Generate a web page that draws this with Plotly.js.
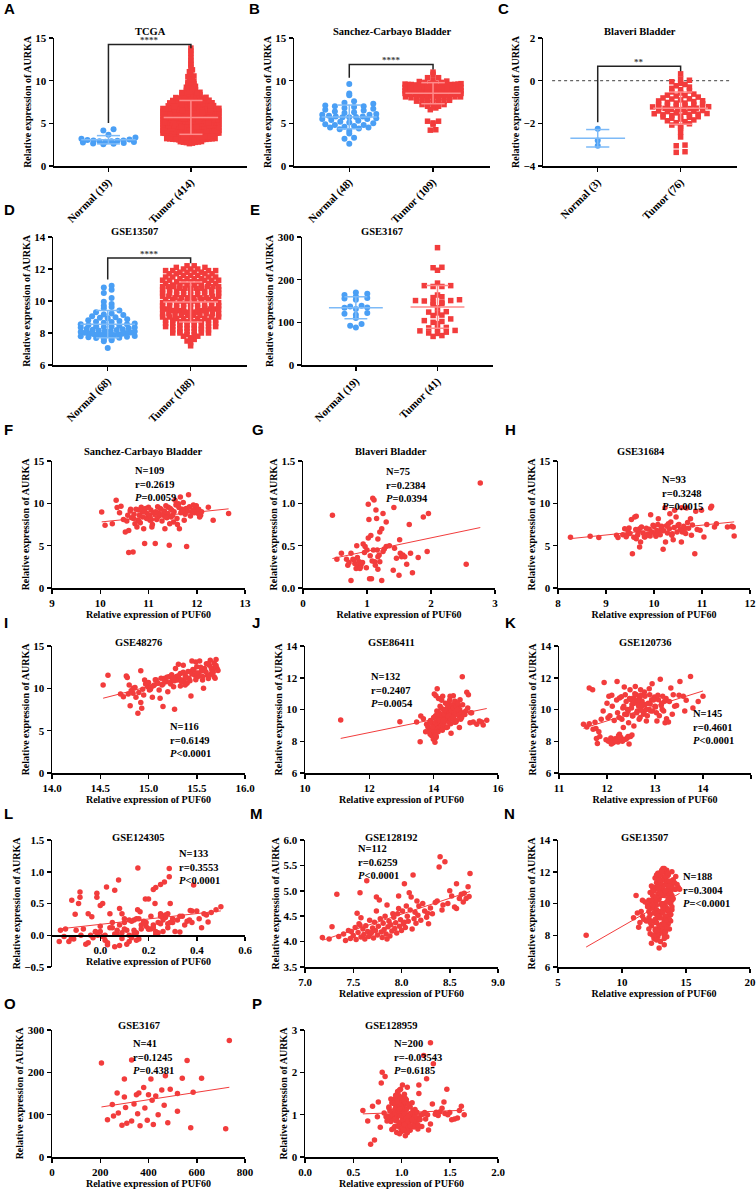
<!DOCTYPE html>
<html><head><meta charset="utf-8">
<script src="https://cdn.plot.ly/plotly-3.0.1.min.js"></script>
<style>body{margin:0;background:#fff}</style></head>
<body><div id="chart" style="width:756px;height:1190px"></div>
<script>
// ---------------- DATA ----------------
const groupLabels = {
  A:["Normal (19)","Tumor (414)"], B:["Normal (48)","Tumor (109)"], C:["Normal (3)","Tumor (76)"],
  D:["Normal (68)","Tumor (188)"], E:["Normal (19)","Tumor (41)"]
};
const tcgaNormal = [2.55,2.6,2.65,2.7,2.75,2.8,2.85,2.9,2.9,2.95,3.0,3.0,3.05,3.1,3.2,3.35,3.65,4.15,4.3];
const tcgaTumor = [
2.68,3.12,2.81,3.45,2.93,3.27,3.05,2.74,3.38,3.16,2.99,3.41,2.87,3.22,3.09,3.33,2.77,3.48,3.02,3.19,
3.55,3.91,3.62,3.78,3.52,3.87,3.69,3.96,3.58,3.73,3.84,3.64,3.99,3.57,3.81,3.66,3.93,3.71,3.6,3.88,
3.53,3.76,3.95,3.67,3.82,3.59,3.74,3.98,3.63,3.86,3.51,3.79,3.92,3.68,3.85,3.56,3.72,3.97,3.61,3.83,
4.12,4.38,4.05,4.27,4.46,4.19,4.33,4.02,4.41,4.23,4.09,4.36,4.15,4.48,4.28,4.07,4.43,4.2,4.31,4.11,
4.25,4.44,4.03,4.35,4.17,4.49,4.08,4.3,4.21,4.39,4.13,4.47,4.26,4.04,4.37,4.18,4.42,4.1,4.32,4.24,
4.01,4.34,4.16,4.45,4.06,4.29,4.4,4.14,4.22,4.47,4.58,4.83,4.66,4.92,4.54,4.77,4.61,4.98,4.72,4.55,
4.87,4.63,4.94,4.69,4.81,4.52,4.76,4.97,4.59,4.85,4.67,4.91,4.57,4.79,4.64,4.88,4.53,4.74,4.95,4.62,
4.84,4.7,4.96,4.56,4.78,4.65,4.89,4.51,4.73,4.93,4.6,4.82,4.68,4.99,4.75,5.08,5.31,5.14,5.42,5.03,
5.27,5.46,5.11,5.36,5.22,5.49,5.05,5.33,5.18,5.44,5.01,5.29,5.13,5.4,5.24,5.07,5.38,5.16,5.47,5.2,
5.34,5.09,5.43,5.26,5.02,5.37,5.15,5.48,5.21,5.32,5.06,5.45,5.19,5.35,5.12,5.28,5.41,5.57,5.83,5.64,
5.91,5.52,5.76,5.68,5.95,5.59,5.81,5.71,5.54,5.88,5.66,5.97,5.61,5.79,5.55,5.86,5.73,5.93,5.58,5.84,
5.69,5.51,5.77,5.99,5.63,5.89,5.74,5.56,5.82,5.67,5.94,5.6,5.78,5.53,5.87,6.14,6.38,6.05,6.27,6.46,
6.19,6.33,6.02,6.41,6.23,6.09,6.36,6.15,6.48,6.28,6.07,6.43,6.2,6.31,6.11,6.45,6.25,6.04,6.37,6.17,
6.49,6.22,6.34,6.08,6.42,6.16,6.29,6.01,6.39,6.24,6.47,6.12,6.35,6.58,6.83,6.64,6.92,6.55,6.77,6.61,
6.98,6.72,6.87,6.63,6.94,6.69,6.81,6.53,6.76,6.97,6.59,6.85,6.67,6.91,6.57,6.79,6.65,6.88,6.52,6.74,
7.12,7.38,7.05,7.27,7.46,7.19,7.33,7.08,7.41,7.23,7.49,7.15,7.36,7.02,7.29,7.44,7.17,7.31,7.09,7.4,
7.58,7.84,7.66,7.93,7.52,7.77,7.61,7.98,7.71,7.55,7.88,7.63,7.79,7.96,7.68,7.82,7.53,7.74,8.12,8.36,
8.05,8.27,8.48,8.18,8.41,8.09,8.33,8.22,8.45,8.64,8.87,8.53,8.79,8.95,8.61,8.72,9.08,9.34,9.17,9.46,
9.23,9.58,9.81,9.65,9.92,9.71,10.12,10.36,10.24,10.55,10.47,10.83,11.05,11.27,11.52,11.84,12.08,12.41,12.76,13.15,
13.48,13.82,2.62,2.79,2.91,3.04,3.14,3.25,3.36,3.47,3.21,3.07,2.96,3.43,3.29,2.85,3.18,3.35,3.11,3.4,
4.19,4.57,5.04,5.25,5.62,5.9,6.03,6.26,6.71,6.96,7.21,7.57,8.02,8.57];
const sanchezNormal = [9.6,8.5,8.3,7.6,7.4,7.3,7.1,7.0,7.0,6.9,6.8,6.7,6.6,6.5,6.4,6.3,6.2,6.1,6.0,5.9,5.8,5.8,5.75,5.7,5.7,5.6,5.5,5.5,5.4,5.3,5.2,5.1,5.0,4.9,4.8,4.8,4.7,4.6,4.5,4.5,4.4,4.3,4.1,3.8,3.3,3.2,2.6,6.0];
const sanchezPuf60 = [10.03,10.1,10.33,10.43,10.52,10.59,10.57,10.59,10.68,10.69,10.72,10.76,10.79,10.81,10.85,10.9,10.92,10.97,11.0,11.03,11.07,11.12,11.14,11.21,11.24,11.31,11.34,11.41,11.43,11.47,11.52,11.55,11.62,11.64,11.66,11.69,11.74,11.79,11.83,11.9,11.97,12.03,12.06,12.24,12.34,12.66,
10.25,10.4,10.48,10.55,10.62,10.65,10.7,10.74,10.78,10.83,10.87,10.88,10.94,10.96,11.02,11.05,11.08,11.1,11.15,11.17,11.19,11.22,11.26,11.28,11.3,11.33,11.36,11.38,11.4,11.45,11.48,11.5,11.53,11.57,11.59,11.6,11.63,11.67,11.7,11.72,11.76,11.78,11.81,11.85,11.87,11.92,11.95,11.99,12.01,12.04,12.08,10.35,10.63,10.91,11.18,11.44,11.71,11.93,10.8,11.06,11.35,11.58,12.1];
const sanchezTumor = [8.98,7.4,10.35,9.65,6.6,6.8,8.6,4.2,4.25,8.2,7.6,7.2,9.2,8.6,9.55,7.0,5.25,8.8,9.55,8.0,7.2,8.8,5.25,8.8,9.4,8.6,7.0,9.55,5.05,8.4,7.8,10.35,9.95,7.0,10.75,9.2,8.0,4.9,11.0,9.0,9.4,8.8,8.4,9.55,8.0,8.8,
7.6,8.9,8.1,7.9,9.1,8.3,8.7,9.3,8.0,7.7,9.0,8.4,9.4,8.2,8.6,9.2,7.5,8.9,9.0,8.1,9.6,8.5,9.3,7.9,8.7,9.1,9.7,8.3,8.8,9.4,9.2,8.6,9.0,9.8,8.2,7.5,9.5,8.9,9.3,10.1,8.7,9.4,9.1,9.6,8.5,9.2,8.9,9.7,9.0,9.3,8.6,9.5,9.3,9.0,8.3,7.6,9.1,9.8,7.9,8.1,8.4,9.9,9.0];
const blaveriNormal = [-2.25,-2.8,-3.05];
const blaveriTumor = [0.32,0.08,0.02,-0.05,-0.12,-0.18,-0.24,-0.3,-0.36,-0.42,-0.48,-0.53,-0.58,-0.63,-0.68,-0.72,-0.77,-0.81,-0.86,-0.9,
-0.94,-0.98,-1.02,-1.05,-1.08,-1.11,-1.14,-1.17,-1.2,-1.23,-1.26,-1.29,-1.31,-1.34,-1.37,-1.4,-1.43,-1.45,-1.48,-1.51,
-1.54,-1.57,-1.6,-1.63,-1.66,-1.69,-1.72,-1.76,-1.8,-1.84,-1.88,-1.92,-1.97,-2.02,-2.08,-2.14,-2.21,-2.42,-2.64,-3.02,
-3.05,-3.33,-3.36,-1.25,-1.35,-1.15,-1.42,-1.3,-0.95,-1.55,-1.05,-1.7,-0.85,-1.22,-1.6,-0.7];
const gse13507Normal = [10.95,10.85,10.7,10.5,10.18,9.95,9.82,9.7,9.55,9.4,9.3,9.22,9.12,9.05,8.98,8.92,8.86,8.8,8.75,8.7,
8.64,8.6,8.55,8.5,8.46,8.42,8.38,8.34,8.3,8.27,8.24,8.21,8.18,8.15,8.12,8.09,8.06,8.03,8.0,7.98,
7.95,7.93,7.9,7.88,7.86,7.84,7.82,7.8,7.77,7.74,7.71,7.68,7.64,7.6,7.55,7.48,7.06,8.02,8.35,8.95,9.15,8.55,7.92,8.11,8.68,7.87,9.62,8.4];
const gse13507Tumor = [9.8,10.6,8.4,11.2,9.3,10.1,8.9,11.7,9.6,10.4,8.2,11.0,9.1,10.8,12.0,8.7,10.3,7.9,11.5,9.5,
10.0,8.6,11.3,9.2,12.1,7.6,9.9,10.9,8.8,11.8,9.4,10.5,8.3,11.4,9.0,10.2,11.9,7.8,10.7,9.7,
11.1,8.5,10.4,9.3,11.6,8.1,9.8,10.6,8.9,12.2,9.6,10.8,8.0,11.3,9.1,10.1,11.7,7.4,10.9,9.5,
10.3,8.7,11.2,9.4,11.9,7.7,10.0,11.0,8.6,11.5,9.2,10.7,8.2,11.1,9.7,10.5,11.8,8.4,10.2,9.9,
11.4,8.8,10.6,9.0,11.6,8.3,9.7,10.9,8.5,12.0,9.5,10.3,8.1,11.0,9.2,10.4,11.3,7.9,10.8,9.6,
10.1,8.9,11.5,9.3,12.1,7.2,9.9,10.7,8.7,11.7,9.4,10.6,8.0,11.2,9.8,10.2,11.9,8.3,10.5,9.1,
11.3,8.6,10.4,9.5,11.8,8.2,10.0,10.8,8.8,12.2,9.7,10.9,8.4,11.4,9.0,10.3,11.6,7.5,10.6,9.3,
10.2,8.5,11.1,9.6,12.0,7.8,9.8,11.0,8.9,11.4,9.1,10.5,8.1,11.3,9.9,10.7,11.7,8.6,10.1,9.4,
11.5,8.7,10.2,9.2,11.9,8.0,9.6,10.8,8.3,11.8,8.9,9.2,8.5,9.8,9.0,8.4,9.5,10.1,10.9,11.0,
8.0,9.1,9.4,8.8,10.5,11.2,10.9,10.2];
const gse13507Puf60 = [12.4,13.6,12.9,13.1,13.8,12.2,13.3,13.5,12.7,13.9,13.2,12.6,12.1,13.7,13.4,13.5,12.5,12.8,14.0,13.0,
13.3,12.3,12.9,13.6,13.1,13.0,12.0,14.1,12.7,13.6,12.8,12.4,13.4,13.8,12.6,13.9,12.9,12.5,13.2,13.5,
12.3,13.1,13.7,12.2,13.3,12.9,13.4,12.8,13.8,13.2,13.9,13.0,12.4,12.7,13.5,12.6,14.2,13.3,13.6,12.1,
12.9,13.6,13.4,13.1,12.8,12.7,13.8,12.4,12.9,13.0,13.4,12.2,13.0,13.9,12.5,13.3,13.6,13.7,12.8,13.1,
13.5,12.6,13.1,13.3,12.6,12.8,12.3,13.7,13.2,13.9,13.0,14.0,12.7,13.2,12.9,12.6,13.8,13.5,12.4,13.4,
13.6,12.3,13.2,13.8,13.5,12.9,12.7,13.3,13.1,12.8,12.5,13.7,13.3,12.9,13.2,12.1,13.4,12.6,13.9,13.0,
14.1,12.9,12.7,13.6,13.0,13.4,13.1,12.5,12.2,13.3,13.3,12.8,12.6,13.5,13.7,13.6,12.6,12.3,13.0,12.7,
12.6,13.5,13.6,13.2,13.1,13.3,13.9,12.9,13.4,13.7,12.9,13.1,12.2,13.0,12.4,13.8,13.4,13.0,13.5,13.2,
12.9,13.3,12.3,12.8,13.6,12.5,13.6,13.4,12.7,12.7,11.9,11.6,11.3,12.0,11.7,12.1,11.5,11.8,14.2,14.4,
7.2,10.9,11.2,11.4,11.1,14.3,14.5,11.6];
const gse3167Normal = [167,164,160.5,156,157,170,153,139,137,135,134,131,118,110,120,122,96,92,88];
const gse3167Tumor = [275,229,228,222,192,184,184,186,186,164,147,151,158,147,150,142,144,151,153,160,124,125,134,122,117,116,100,104,108,102,88,85,87,81,77,75,74,80,69,67,97];
const gse3167Puf60 = [735,330,560,205,470,300,410,540,620,380,350,270,455,400,520,300,430,360,585,490,250,340,415,465,305,385,440,275,520,355,230,330,395,480,420,290,365,310,575,720,255];
const blaveriPuf60 = [0.46,0.75,0.68,0.75,0.78,0.81,0.83,0.86,0.88,0.91,0.84,0.94,0.97,1.0,1.02,1.02,1.03,1.06,1.09,1.1,1.11,1.14,1.15,1.17,1.17,1.17,1.2,1.23,1.25,1.25,1.3,1.3,1.23,1.04,1.07,1.12,1.2,1.42,1.41,1.43,1.46,1.5,1.51,1.52,1.54,1.56,1.59,1.62,1.66,1.68,1.71,1.8,1.88,1.96,1.94,2.55,2.77,0.53,0.6,
0.7,0.8,0.85,0.9,0.93,0.96,0.99,1.05,1.08,1.13,1.16,1.19,1.27,1.35,0.72,0.89];
const blaveriAurka = [0.86,0.09,0.34,0.41,0.34,0.29,0.23,0.26,0.31,0.28,0.5,0.52,0.49,0.45,0.59,0.99,0.81,0.62,1.06,0.45,1.04,0.92,0.82,0.58,0.37,0.22,0.66,0.7,0.88,0.43,0.78,0.49,0.09,0.11,0.11,0.31,0.31,0.95,0.21,0.47,0.35,0.15,0.57,0.41,0.37,0.39,0.37,0.28,0.75,0.41,0.18,0.36,0.84,0.88,0.43,0.28,1.24,0.34,0.41,
0.27,0.33,0.36,0.25,0.3,0.42,0.24,0.38,0.32,0.27,0.45,0.39,0.46,0.5,0.3,0.23];
const gse31684Puf60 = [8.26,8.67,8.85,9.22,9.25,9.39,9.43,9.46,9.53,9.55,9.6,9.63,9.63,9.67,9.7,9.7,9.72,9.81,9.88,9.9,9.93,9.98,10.04,10.09,10.11,10.16,10.19,10.23,10.24,10.3,10.33,10.37,10.4,10.43,10.46,10.5,10.57,10.57,10.59,10.64,10.68,10.76,10.78,10.85,10.87,10.96,10.99,11.04,11.18,11.2,11.26,11.53,11.62,11.65,11.67,
9.35,9.42,9.48,9.5,9.58,9.62,9.66,9.74,9.77,9.8,9.84,9.86,9.92,9.95,10.0,10.02,10.06,10.08,10.13,10.15,10.2,10.26,10.28,10.32,10.35,10.38,10.42,10.48,10.52,10.55,10.62,10.66,10.7,10.72,10.8,10.9,11.1,11.3];
const gse31684Aurka = [5.98,6.1,5.95,6.22,5.95,7.0,6.22,6.73,8.1,4.06,8.39,8.46,5.83,6.61,7.0,4.84,5.43,6.02,6.22,6.93,8.66,7.4,6.1,8.19,6.61,7.28,4.57,9.49,5.43,7.6,8.78,6.22,5.71,9.17,8.39,7.4,9.49,5.43,6.61,7.0,9.45,8.19,6.22,4.06,9.06,6.81,9.17,6.02,9.45,9.65,7.2,7.2,7.28,7.2,6.14,
6.3,6.05,7.1,6.45,6.0,6.9,6.25,7.2,6.5,6.05,7.05,6.35,6.15,6.6,7.25,6.4,6.8,7.5,6.3,7.1,6.75,7.35,6.5,7.0,7.8,6.4,7.15,6.6,7.5,6.9,7.3,6.45,7.75,7.05,7.45,6.9,7.5,7.6];
const gse48276Puf60 = [14.53,14.58,14.71,14.74,14.79,14.8,14.81,14.78,14.77,14.84,14.84,14.87,14.89,14.92,14.92,14.93,14.94,14.95,14.96,14.99,15.01,15.04,15.06,15.08,15.09,15.11,15.12,15.15,15.16,15.18,15.2,15.21,15.23,15.25,15.26,15.27,15.28,15.3,15.31,15.33,15.33,15.35,15.36,15.37,15.38,15.4,15.42,15.44,15.45,15.46,15.48,15.49,15.5,15.51,15.53,15.55,15.56,15.57,15.58,15.61,15.62,15.63,15.64,15.65,15.66,15.68,15.68,15.69,15.7,15.71,15.44,
14.82,14.86,14.9,14.97,15.0,15.02,15.05,15.07,15.1,15.13,15.14,15.17,15.19,15.22,15.24,15.27,15.29,15.32,15.34,15.36,15.39,15.41,15.43,15.45,15.47,15.49,15.52,15.54,15.56,15.59,15.6,15.63,15.65,15.67,15.69,15.7,15.72,15.03,15.15,15.26,15.38,15.5,15.62,14.98,15.31];
const gse48276Aurka = [10.39,11.56,9.34,9.02,9.34,10.39,7.93,11.29,11.45,9.41,10.0,8.95,7.07,12.07,8.32,7.66,9.88,9.22,10.98,10.2,9.8,8.95,10.39,10.98,10.59,9.8,8.83,7.85,11.17,10.78,9.61,11.37,10.51,11.05,10.2,7.54,12.34,10.98,12.85,11.76,10.27,10.78,12.73,10.98,11.56,10.59,11.17,11.95,13.24,12.23,11.56,13.12,12.54,11.37,13.24,12.07,10.98,10.0,12.34,11.56,11.17,12.73,13.32,11.68,12.15,11.37,13.0,12.54,13.4,12.34,9.1,
9.7,10.1,9.5,10.5,10.7,9.9,10.3,11.0,10.6,11.2,10.4,10.9,11.3,10.7,11.6,10.9,11.4,11.1,10.8,11.9,11.3,12.0,10.9,11.7,12.2,11.0,11.8,12.5,11.4,12.0,12.9,11.6,12.4,11.9,11.2,12.7,12.1,10.2,10.5,11.2,10.4,11.8,12.9,10.6,11.5];
const gse86411Puf60 = [11.11,12.95,13.47,13.6,13.68,13.58,13.78,13.85,13.89,13.94,13.99,14.04,14.07,14.02,14.07,14.11,14.15,14.18,14.2,14.25,14.28,14.3,14.35,14.38,14.4,14.46,14.49,14.51,14.54,14.56,14.61,14.63,14.66,14.69,14.72,14.77,14.8,14.82,14.84,14.89,14.92,14.97,15.03,15.08,15.13,15.18,15.23,15.34,15.42,15.49,15.54,15.65,
13.82,13.86,13.9,13.92,13.95,13.97,14.0,14.01,14.03,14.05,14.06,14.08,14.09,14.1,14.12,14.13,14.14,14.16,14.17,14.19,14.21,14.22,14.23,14.24,14.26,14.27,14.29,14.31,14.32,14.33,14.34,14.36,14.37,14.39,14.41,14.42,14.43,14.44,14.45,14.47,14.48,14.5,14.52,14.53,14.55,14.57,14.58,14.6,14.62,14.64,14.65,14.67,14.68,14.7,14.71,14.73,14.75,14.78,14.81,14.85,14.87,14.9,14.95,15.0,15.06,15.15,13.75,13.88,13.96,14.02,14.11,14.2,14.28,14.35,14.46,14.59,14.74,14.06,14.15,14.3];
const gse86411Aurka = [9.34,9.23,9.21,9.59,9.42,7.97,9.07,8.65,8.44,8.34,8.13,7.93,8.24,10.98,10.87,11.31,9.79,9.48,10.21,10.58,10.83,9.17,9.9,9.38,8.86,10.41,9.79,10.83,8.51,10.1,10.87,9.59,10.52,9.21,10.31,10.21,8.86,10.62,9.38,12.07,9.79,9.69,11.08,10.93,9.17,9.79,9.21,9.07,9.27,9.21,9.02,9.32,
8.9,8.6,9.3,8.8,8.4,9.1,9.5,8.7,8.5,9.2,9.6,8.3,9.0,9.9,8.8,9.4,8.6,9.3,9.8,9.1,8.9,9.7,10.1,9.0,9.5,8.7,9.4,10.0,9.2,9.7,
9.3,8.9,10.4,9.6,9.4,10.0,8.9,10.2,9.5,9.2,9.8,10.6,9.4,9.1,9.9,10.3,9.6,9.4,10.1,9.8,9.2,10.5,9.7,10.2,9.3,9.9,10.4,9.6,10.0,9.8,
9.5,10.3,9.7,9.9,10.1,9.8,8.6,9.2,8.9,8.6,9.7,9.3,9.1,10.0,9.6,9.5,10.0,8.4,10.7,9.3];
const gse120736Puf60 = [11.51,11.63,11.7,11.63,11.71,11.77,11.78,11.8,11.88,11.94,12.02,12.04,12.04,12.09,12.11,12.14,12.19,12.21,12.22,12.26,12.26,12.29,12.31,12.33,12.34,12.36,12.38,12.39,12.41,12.43,12.45,12.46,12.48,12.5,12.52,12.53,12.55,12.56,12.59,12.6,12.61,12.63,12.65,12.67,12.68,12.7,12.72,12.73,12.77,12.79,12.8,12.82,12.87,12.89,12.93,12.94,12.95,12.99,13.01,13.04,13.07,13.11,13.13,13.16,13.2,13.21,13.24,13.28,13.33,13.38,13.41,13.45,13.52,13.59,13.65,13.74,13.79,14.0,
11.85,11.92,11.98,12.0,12.03,12.06,12.08,12.1,12.12,12.15,12.17,12.2,12.23,12.24,12.25,12.28,12.3,12.32,12.35,12.37,12.4,12.42,12.44,12.47,12.49,12.51,12.54,12.57,12.58,12.62,12.64,12.66,12.69,12.71,12.74,12.76,12.78,12.81,12.84,12.86,12.88,12.91,12.97,13.0,13.03,13.06,13.09,13.14,13.18,13.23,13.3,13.36,13.5,11.58,11.75,11.83,12.13,12.18,12.27,12.35,12.44,12.52,12.71,12.9,13.15,13.62,13.9];
const gse120736Aurka = [9.07,11.35,11.24,9.11,8.76,8.8,8.17,7.86,9.38,11.7,9.48,10.83,8.04,7.83,10.21,8.04,8.13,11.76,9.79,10.73,8.44,8.24,9.38,10.1,8.86,11.41,10.93,8.13,9.69,10.0,9.17,7.83,11.24,10.62,10.31,9.59,10.73,8.96,11.45,10.52,10.93,9.9,10.37,9.38,10.73,11.24,10.21,10.52,9.79,10.83,10.31,9.27,10.0,10.93,10.62,11.62,9.9,10.79,10.15,9.27,10.62,11.91,10.25,10.83,10.52,9.17,9.42,9.21,11.35,10.93,10.21,10.25,11.76,10.83,10.58,12.08,10.1,10.83,
8.3,9.9,8.1,10.4,8.0,9.6,8.2,10.9,8.05,9.3,8.15,10.6,7.95,8.35,9.5,8.1,10.8,8.0,10.2,9.7,10.5,8.2,9.9,10.7,8.3,10.1,9.6,10.4,11.0,9.8,10.6,10.2,9.5,10.9,10.3,9.7,11.1,10.0,9.6,10.4,11.3,9.9,10.6,10.2,9.8,10.9,9.6,10.4,9.9,10.7,10.5,9.7,10.9,8.9,9.2,8.6,7.9,8.0,8.25,8.1,8.3,8.4,9.95,10.35,10.0,9.9,10.5];
const gse124305Puf60 = [0.156,0.286,0.286,0.266,0.25,0.23,0.22,0.076,0.026,0.06,-0.014,-0.084,-0.084,-0.118,-0.09,-0.104,-0.05,-0.035,-0.014,0.0,0.01,0.04,0.08,0.09,0.1,0.12,0.14,0.15,0.155,0.165,0.187,0.2,0.227,0.25,0.29,0.28,0.373,0.38,0.41,0.447,0.387,-0.144,-0.165,
-0.17,-0.12,-0.08,-0.05,-0.02,0.01,0.03,0.05,0.07,0.09,0.11,0.13,0.15,0.17,0.19,0.21,0.23,0.25,0.27,0.3,
0.33,0.36,0.4,0.44,0.48,-0.15,-0.1,-0.06,-0.03,0.0,0.02,0.04,0.06,0.08,0.1,0.12,0.14,0.16,0.18,0.2,
0.22,0.24,0.26,0.28,0.31,0.34,0.38,0.42,0.46,-0.13,-0.07,-0.01,0.03,0.07,0.11,0.15,0.19,0.23,0.27,0.32,
0.05,0.09,0.13,0.17,0.21,0.25,0.29,0.35,-0.04,0.0,0.06,0.1,0.14,0.18,0.22,0.26,0.3,0.37,0.43,0.5,
-0.11,-0.02,0.08,0.12,0.16,0.2,0.24,0.28,0.33,0.02];
const gse124305Aurka = [1.06,1.05,0.92,0.84,0.8,0.75,0.72,0.87,0.76,0.71,0.66,0.68,0.6,0.55,0.5,0.33,0.34,0.29,0.6,0.47,0.5,0.34,0.42,0.34,0.26,0.24,0.24,0.26,0.4,0.37,0.57,0.57,0.5,0.34,0.5,0.34,0.39,0.38,0.26,0.21,0.79,0.1,0.08,
-0.1,-0.05,0.0,-0.12,0.05,-0.02,-0.15,0.12,0.02,-0.05,0.08,0.22,-0.08,0.1,0.2,0.3,0.06,0.18,0.28,0.2,
0.3,0.22,0.38,0.32,0.4,-0.02,0.08,-0.14,-0.04,0.06,-0.08,0.12,0.02,-0.16,0.2,0.0,0.08,-0.06,0.22,0.1,
0.16,0.04,0.24,0.18,0.06,0.3,0.2,0.12,0.36,-0.1,0.1,0.0,-0.12,0.08,-0.14,0.04,0.14,0.02,0.32,0.24,
0.2,0.04,-0.04,0.16,0.1,0.3,0.2,0.16,0.0,0.14,-0.18,0.1,0.02,0.2,0.12,0.06,0.26,0.24,0.34,0.45,
-0.06,0.06,0.16,-0.1,0.26,0.1,0.2,0.12,0.05,0.0];
const gse128192Puf60 = [7.33,7.64,7.57,7.28,7.54,7.58,7.74,7.77,7.85,7.91,7.97,8.05,8.1,8.12,8.03,8.08,8.22,8.28,8.35,8.4,8.39,8.45,8.57,8.57,8.62,8.67,8.71,8.7,8.69,
7.18,7.25,7.35,7.4,7.42,7.45,7.47,7.5,7.52,7.53,7.55,7.56,7.58,7.6,7.61,7.62,7.63,7.65,7.66,7.67,7.68,7.7,7.71,7.72,7.73,7.75,7.76,7.78,7.79,7.8,7.81,7.82,7.83,7.84,7.86,7.87,7.88,7.89,7.9,7.92,7.93,7.94,7.95,7.96,7.98,7.99,8.0,8.01,8.02,8.04,8.06,8.07,8.09,8.11,8.13,8.14,8.15,8.17,8.18,8.2,8.24,8.26,8.3,8.32,8.37,8.42,8.48,8.52,8.55,8.6,8.65,7.48,7.57,7.69,7.74,7.85,7.97,8.03,8.16,8.27,8.43,8.5,8.64];
const gse128192Aurka = [4.93,5.2,4.96,4.29,4.56,4.47,4.88,4.82,4.72,4.55,4.65,4.7,4.88,5.31,5.14,4.96,4.75,4.35,4.77,5.67,5.47,5.57,5.14,4.65,4.93,4.85,5.34,4.89,5.08,
4.08,4.05,4.1,4.15,4.02,4.22,4.06,4.12,4.28,4.04,4.18,4.35,4.09,4.25,4.14,4.05,4.31,4.2,4.1,4.42,4.16,4.27,4.07,4.38,4.22,4.13,4.3,4.45,4.19,4.08,4.36,4.24,4.5,4.15,4.29,4.4,4.11,4.33,4.21,4.48,4.26,4.37,4.17,4.55,4.3,4.43,4.22,4.6,4.35,4.28,4.5,4.4,4.62,4.25,4.45,4.58,4.36,4.52,4.7,4.42,4.6,4.48,4.66,4.55,4.8,4.62,4.75,4.9,4.68,4.85,4.95,4.2,4.32,4.18,4.6,4.05,4.9,4.38,4.8,4.56,4.72,5.0,4.78];
const gse128959Puf60 = [1.02,0.95,1.08,0.98,1.12,0.92,1.05,1.0,1.15,0.88,1.03,0.97,1.1,0.94,1.06,1.01,0.9,1.13,0.99,1.07,
0.96,1.04,1.18,0.93,1.09,1.0,0.86,1.11,0.98,1.05,1.02,0.91,1.14,0.97,1.08,1.03,0.95,1.2,0.99,1.06,
0.94,1.1,1.01,0.89,1.16,0.98,1.04,0.92,1.12,1.0,1.07,0.96,1.03,1.22,0.93,1.09,0.99,1.05,0.87,1.13,
1.01,0.95,1.08,0.97,1.17,1.02,0.9,1.06,0.98,1.11,0.94,1.04,1.0,1.25,0.96,1.07,1.03,0.85,1.14,0.99,
1.05,0.92,1.1,1.01,0.97,1.19,0.93,1.06,1.02,0.88,1.12,0.98,1.04,0.95,1.09,1.0,1.28,0.91,1.07,1.03,
0.96,1.15,0.99,1.05,0.84,1.11,1.01,0.94,1.08,0.97,1.3,1.02,0.93,1.06,1.0,1.13,0.89,1.04,0.98,1.21,
1.09,0.95,1.03,1.16,0.99,0.92,1.07,1.01,1.35,0.96,1.05,0.87,1.12,1.0,0.94,1.08,1.02,1.24,0.97,1.06,
0.9,1.1,1.03,0.98,1.17,0.93,1.05,1.4,1.01,0.96,1.13,0.99,1.07,0.82,1.04,1.19,0.95,1.09,1.0,1.27,
0.97,1.02,1.14,0.91,1.06,1.45,0.98,1.03,0.94,1.11,1.5,1.55,1.6,1.65,0.75,0.7,0.65,0.6,0.78,0.8,
1.38,1.42,1.32,1.48,1.52,1.36,0.72,0.68,0.76,1.58,1.3,1.26,1.33,1.44,0.83,0.79,1.62,1.47,1.23,1.18];
const gse128959Aurka = [1.0,0.85,1.2,0.7,1.1,0.95,1.35,0.8,1.05,0.9,1.25,0.75,0.98,1.4,0.88,1.15,0.65,1.02,1.3,0.78,
1.08,0.92,1.5,0.72,1.18,0.6,0.96,1.28,0.82,1.12,0.68,1.04,0.87,1.45,0.93,1.22,0.58,0.99,1.6,0.76,
1.14,0.9,1.32,0.84,1.06,0.55,1.38,0.97,0.74,1.2,0.86,1.55,0.79,1.01,1.26,0.63,1.1,0.89,1.16,0.71,
1.42,0.94,0.83,1.07,0.66,1.3,1.0,0.77,1.24,0.91,1.17,0.62,1.36,0.9,1.03,0.7,1.48,0.85,1.12,0.97,
0.8,1.27,0.96,0.69,1.13,0.88,1.05,1.65,0.73,1.09,0.92,1.4,0.75,1.19,0.87,1.02,0.64,1.33,0.99,1.08,
1.11,0.81,1.21,0.67,0.95,1.04,1.7,0.86,1.0,1.29,0.78,1.06,0.9,0.57,1.15,0.84,1.37,0.98,1.23,0.72,
1.03,1.44,0.79,0.93,1.11,0.68,1.26,0.88,1.01,1.52,0.94,1.18,0.74,1.09,1.34,0.83,0.97,1.05,1.14,0.61,
1.28,0.87,1.02,1.58,0.76,1.12,0.91,1.07,0.69,1.39,0.85,1.2,0.96,1.04,0.5,0.89,1.31,0.73,1.16,1.0,
1.08,0.65,0.95,1.27,0.82,1.03,1.13,0.77,1.46,0.88,1.05,0.9,1.1,1.0,0.95,1.2,0.85,1.1,0.7,2.0,
0.98,1.15,1.25,1.0,0.88,1.06,0.4,0.3,1.3,0.92,2.7,1.85,2.2,1.3,1.9,1.75,1.2,1.6,2.4,1.7];

const statsText = {
  F:["N=109","r=0.2619","<i>P</i>=0.0059"], G:["N=75","r=0.2384","<i>P</i>=0.0394"],
  H:["N=93","r=0.3248","<i>P</i>=0.0015"], I:["N=116","r=0.6149","<i>P</i><0.0001"],
  J:["N=132","r=0.2407","<i>P</i>=0.0054"], K:["N=145","r=0.4601","<i>P</i><0.0001"],
  L:["N=133","r=0.3553","<i>P</i><0.0001"], M:["N=112","r=0.6259","<i>P</i><0.0001"],
  N:["N=188","r=0.3004","<i>P</i>=<0.0001"], O:["N=41","r=0.1245","<i>P</i>=0.4381"],
  P:["N=200","r=-0.03543","<i>P</i>=0.6185"]
};

// ---------------- DRAWING ----------------
const W=756,H=1190;
const RED='#f23c3c', BLUE='#4a9ff5', RED_BAR='#ff8a8a', BLUE_BAR='#7dbaf7';
const SERIF='Liberation Serif';
const traces=[], annotations=[];
const layout={width:W,height:H,margin:{l:0,r:0,t:0,b:0},paper_bgcolor:'#fff',plot_bgcolor:'rgba(0,0,0,0)',
  showlegend:false,hovermode:false,annotations:annotations};
const tf=(s)=>({family:SERIF,size:s,weight:'bold',color:'#000'});

function ids(i){const s=i===1?'':String(i);return {x:'x'+s,y:'y'+s,xa:'xaxis'+s,ya:'yaxis'+s};}
function baseAxis(extra){return Object.assign({showline:true,linecolor:'#000',linewidth:1.5,ticks:'outside',ticklen:4,
  tickwidth:1.5,tickcolor:'#000',showgrid:false,zeroline:false,fixedrange:true,tickfont:tf(11),automargin:false},extra);}
function makeAxes(i,box,xr,yr,xo,yo){
  const id=ids(i);
  layout[id.xa]=baseAxis(Object.assign({domain:[box[0]/W,box[2]/W],range:xr,anchor:id.y},xo));
  layout[id.ya]=baseAxis(Object.assign({domain:[1-box[3]/H,1-box[1]/H],range:yr,anchor:id.x,
    title:{text:'Relative expression of AURKA',font:tf(10),standoff:2}},yo));
  return id;
}
function letter(t,x,y){annotations.push({xref:'paper',yref:'paper',x:x/W,y:1-y/H,text:'<b>'+t+'</b>',showarrow:false,
  xanchor:'left',yanchor:'middle',font:{family:'Liberation Sans',size:15,color:'#000'}});}
function ptitle(id,box,text,fx,dy){annotations.push({xref:id.x+' domain',yref:id.y+' domain',x:fx,y:1+dy/(box[3]-box[1]),
  text:text,showarrow:false,xanchor:'center',yanchor:'middle',font:tf(10.5)});}
const mean=a=>a.reduce((s,v)=>s+v,0)/a.length;
const sd=a=>{const m=mean(a);return Math.sqrt(a.reduce((s,v)=>s+(v-m)*(v-m),0)/(a.length-1));};

// column-scatter layout: points of similar value share a row, rows are centred and capped in width
function swarm(vals,center,box,xr,yr,g){
  const pxX=(box[2]-box[0])/(xr[1]-xr[0]), pxY=(box[3]-box[1])/(yr[1]-yr[0]);
  const bin=g.size*g.binF, bins={};
  vals.map((v,j)=>j).sort((a,b)=>vals[a]-vals[b]).forEach(j=>{
    const b=Math.floor((vals[j]-yr[0])*pxY/bin);(bins[b]=bins[b]||[]).push(j);});
  const xs=new Array(vals.length);
  Object.keys(bins).forEach(b=>{
    const L=bins[b],n=L.length;let step=g.size*g.gap;
    if(n>1&&step*(n-1)/2>g.half)step=2*g.half/(n-1);
    const slots=[];for(let k=0;k<n;k++)slots.push(k-(n-1)/2);
    slots.sort((p,q)=>Math.abs(p)-Math.abs(q)||p-q);
    L.forEach((j,k)=>{xs[j]=center+(slots[k]*step)/pxX;});
  });
  return xs;
}

function strip(i,box,yr,dtick,labels,groups,title,fx,dy,stars,dotted){
  const xr=[-0.66,1.68];
  const id=makeAxes(i,box,xr,yr,{tickvals:[0,1],ticktext:labels,tickangle:-45},{dtick:dtick,tick0:yr[0]});
  if(dotted){traces.push({type:'scatter',mode:'lines',x:[-0.55,1.62],y:[0,0],xaxis:id.x,yaxis:id.y,
    line:{color:'#666',width:1.3,dash:'dot'}});}
  groups.forEach((g,k)=>{
    const xs=swarm(g.vals,k,box,xr,yr,g);
    traces.push({type:'scatter',mode:'markers',x:xs,y:g.vals,xaxis:id.x,yaxis:id.y,
      marker:{color:g.color,size:g.size,symbol:g.symbol,line:{width:0}}});
    const m=mean(g.vals),s=sd(g.vals);
    traces.push({type:'scatter',mode:'lines',x:[k-0.33,k+0.33,null,k-0.14,k+0.14,null,k,k,null,k-0.14,k+0.14],
      y:[m,m,null,m+s,m+s,null,m+s,m-s,null,m-s,m-s],xaxis:id.x,yaxis:id.y,line:{color:g.bar,width:1.5}});
  });
  if(stars){
    const R=yr[1]-yr[0];
    const n0=Math.max(...groups[0].vals), n1=Math.max(...groups[1].vals);
    const top=Math.min(Math.max(n0,n1)+0.06*R, yr[1]-0.05*R);
    const rb=Math.min(n1+0.02*R, top-0.03*R);
    traces.push({type:'scatter',mode:'lines',x:[0,0,1,1],y:[n0+0.05*R,top,top,rb],xaxis:id.x,yaxis:id.y,
      line:{color:'#222',width:1.5}});
    annotations.push({xref:id.x,yref:id.y,x:0.5,y:top,text:stars,showarrow:false,yanchor:'bottom',yshift:-3,
      font:{family:SERIF,size:9,color:'#444',weight:'bold'}});
  }
  ptitle(id,box,title,fx,dy);
}

function scat(i,box,xr,xo,yr,yo,xs,ys,title,fx,dy,lines,sx,sy,crossY){
  const xt={title:{text:'Relative expression of PUF60',font:tf(10),standoff:1}};
  if(crossY!==undefined){
    const py=box[3]-(crossY-yr[0])/(yr[1]-yr[0])*(box[3]-box[1]);
    Object.assign(xt,{anchor:'free',position:1-py/H});
  }
  const id=makeAxes(i,box,xr,yr,Object.assign(xt,xo),yo);
  const n=Math.min(xs.length,ys.length), X=xs.slice(0,n), Y=ys.slice(0,n);
  traces.push({type:'scatter',mode:'markers',x:X,y:Y,xaxis:id.x,yaxis:id.y,marker:{color:RED,size:5.5,line:{width:0}}});
  const mx=mean(X),my=mean(Y);let sxy=0,sxx=0;
  for(let k=0;k<n;k++){sxy+=(X[k]-mx)*(Y[k]-my);sxx+=(X[k]-mx)*(X[k]-mx);}
  const b=sxy/sxx,a=my-b*mx,x0=Math.min(...X),x1=Math.max(...X);
  traces.push({type:'scatter',mode:'lines',x:[x0,x1],y:[a+b*x0,a+b*x1],xaxis:id.x,yaxis:id.y,line:{color:RED,width:1}});
  annotations.push({xref:id.x+' domain',yref:id.y+' domain',x:sx,y:sy+7/(box[3]-box[1]),text:lines.join('<br>'),
    showarrow:false,xanchor:'left',yanchor:'top',align:'left',font:tf(10.5)});
  ptitle(id,box,title,fx,dy);
}

const grp=(v,kind,o)=>Object.assign(kind==='n'
  ?{vals:v,color:BLUE,bar:BLUE_BAR,symbol:'circle',size:6,half:27,gap:1.4,binF:0.8}
  :{vals:v,color:RED,bar:RED_BAR,symbol:'square',size:5.5,half:28,gap:1.2,binF:0.7},o||{});

strip(1,[54,38,247,166],[0,15],5,groupLabels.A,[grp(tcgaNormal,'n',{gap:1.7}),grp(tcgaTumor,'t',{gap:0.55,binF:0.5})],'TCGA',0.5,7,'****');
strip(2,[294,38,490,166],[0,15],5,groupLabels.B,[grp(sanchezNormal,'n',{gap:1.6}),grp(sanchezTumor,'t',{gap:1.0,binF:0.6})],'Sanchez-Carbayo Bladder',0.5,7,'****');
strip(3,[543,38,737,166],[-4,2],2,groupLabels.C,[grp(blaveriNormal,'n',{half:20}),grp(blaveriTumor,'t',{gap:1.6,binF:0.6})],'Blaveri Bladder',0.5,7,'**',true);
strip(4,[53,237,247,365],[6,14],2,groupLabels.D,[grp(gse13507Normal,'n',{gap:1.3,binF:0.7}),grp(gse13507Tumor,'t',{gap:1.3,binF:0.6})],'GSE13507',0.42,5,'****');
strip(5,[302,237,493,365],[0,300],100,groupLabels.E,[grp(gse3167Normal,'n',{gap:1.9}),grp(gse3167Tumor,'t',{gap:1.6})],'GSE3167',0.42,5,null);

scat(6,[52,461,245,588],[9,13],{dtick:1},[0,15],{dtick:5},sanchezPuf60,sanchezTumor,'Sanchez-Carbayo Bladder',0.47,9,statsText.F,0.42,0.93);
scat(7,[303,461,495,588],[0,3],{dtick:1},[0,1.5],{dtick:0.5,tickformat:'.1f'},blaveriPuf60,blaveriAurka,'Blaveri Bladder',0.46,9,statsText.G,0.42,0.92);
scat(8,[558,461,750,588],[8,12],{dtick:1},[0,15],{dtick:5},gse31684Puf60,gse31684Aurka,'GSE31684',0.43,9,statsText.H,0.53,0.86);
scat(9,[52,646,245,773],[14,16],{dtick:0.5,tickformat:'.1f'},[0,15],{dtick:5},gse48276Puf60,gse48276Aurka,'GSE48276',0.45,4,statsText.I,0.6,0.37);
scat(10,[305,646,498,773],[10,16],{dtick:2},[6,14],{dtick:2},gse86411Puf60,gse86411Aurka,'GSE86411',0.45,4,statsText.J,0.33,0.76);
scat(11,[559,646,751,773],[11,15],{dtick:1},[6,14],{dtick:2},gse120736Puf60,gse120736Aurka,'GSE120736',0.45,4,statsText.K,0.69,0.47);
scat(12,[52,840,245,967],[-0.2,0.6],{tickvals:[0,0.2,0.4,0.6],tickformat:'.1f'},[-0.5,1.5],{dtick:0.5,tick0:-0.5,tickformat:'.1f'},gse124305Puf60,gse124305Aurka,'GSE124305',0.45,3,statsText.L,0.65,0.9,0);
scat(13,[305,840,498,967],[7,9],{dtick:0.5,tickformat:'.1f'},[3.5,6],{dtick:0.5,tick0:3.5,tickformat:'.1f'},gse128192Puf60,gse128192Aurka,'GSE128192',0.45,3,statsText.M,0.265,0.94);
scat(14,[558,840,750,967],[5,20],{dtick:5},[6,14],{dtick:2},gse13507Puf60,gse13507Tumor,'GSE13507',0.45,3,statsText.N,0.64,0.72);
scat(15,[52,1030,245,1157],[0,800],{dtick:200},[0,300],{dtick:100},gse3167Puf60,gse3167Tumor,'GSE3167',0.45,5,statsText.O,0.41,0.9);
scat(16,[305,1030,498,1157],[0,2],{dtick:0.5,tickformat:'.1f'},[0,3],{dtick:1},gse128959Puf60,gse128959Aurka,'GSE128959',0.45,5,statsText.P,0.45,0.9);

letter('A',2,9);letter('B',247,9);letter('C',496,9);
letter('D',2,209);letter('E',248,209);
letter('F',2,429);letter('G',250,429);letter('H',503,429);
letter('I',2,622);letter('J',250,622);letter('K',503,622);
letter('L',2,813);letter('M',248,813);letter('N',502,813);
letter('O',2,1003);letter('P',250,1003);

Plotly.newPlot('chart',traces,layout,{staticPlot:true,displayModeBar:false});
</script></body></html>
